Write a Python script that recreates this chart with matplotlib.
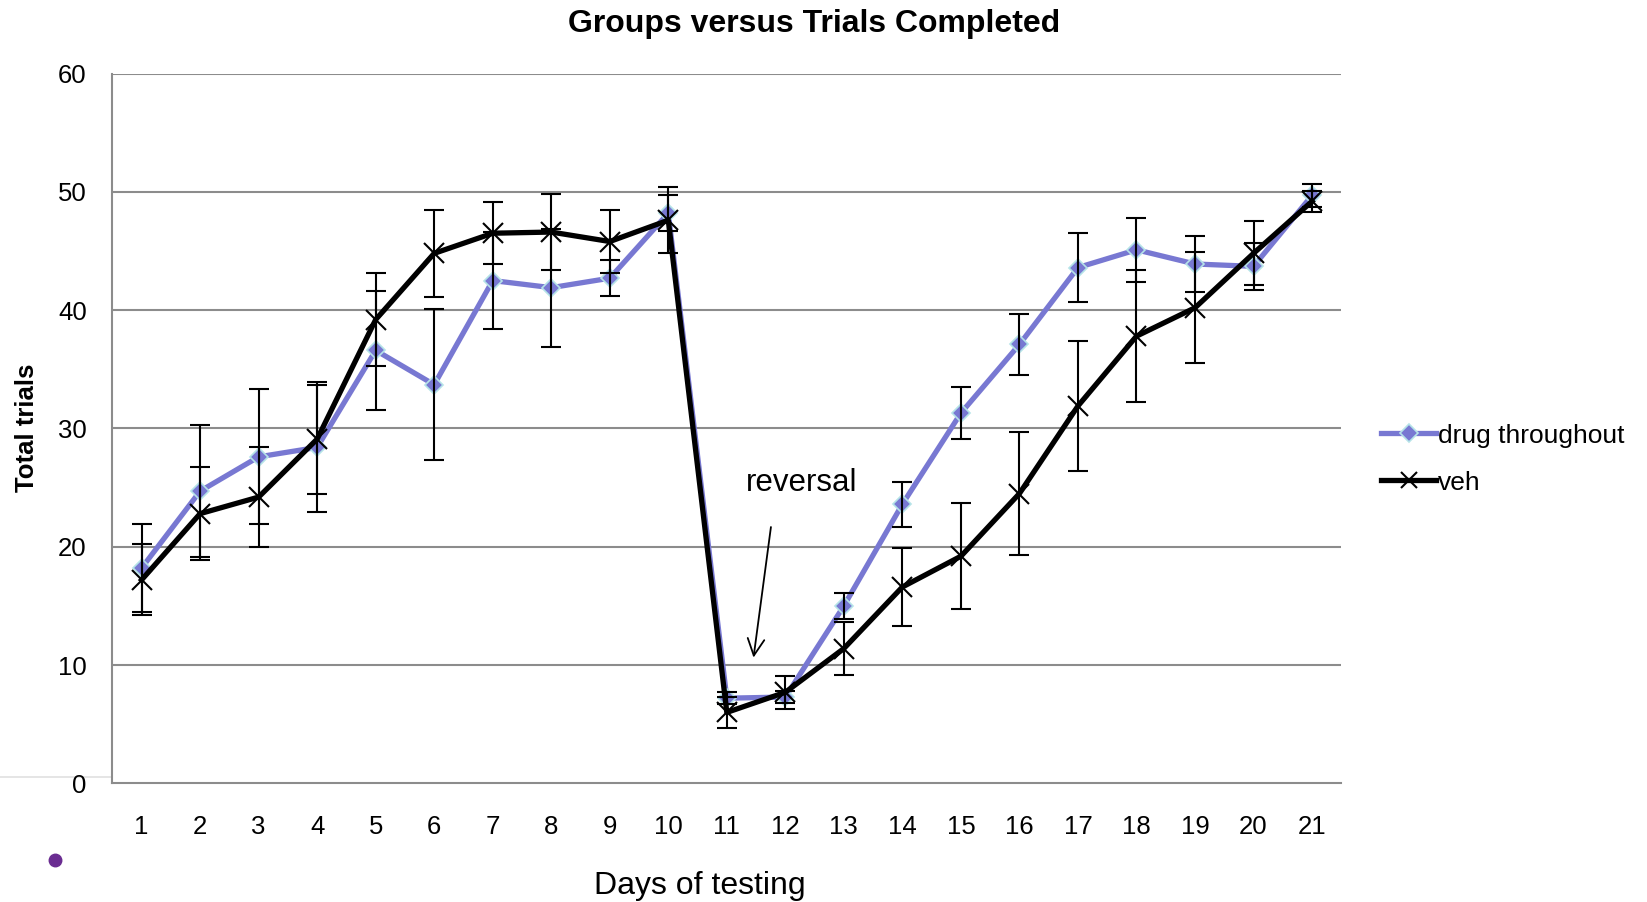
import matplotlib
matplotlib.use('Agg')
import matplotlib.pyplot as plt
from matplotlib.lines import Line2D

plt.rcParams['font.family'] = ['Liberation Sans', 'DejaVu Sans']

days = list(range(1, 22))
day_labels = [str(d) for d in days]
drug = [18.2, 24.7, 27.6, 28.4, 36.6, 33.7, 42.5, 41.9, 42.7, 48.2, 7.2,
        7.3, 15.0, 23.6, 31.3, 37.1, 43.6, 45.1, 43.9, 43.7, 49.7]
drug_err = [3.7, 5.6, 5.7, 5.5, 5.0, 6.4, 4.1, 5.0, 1.5, 1.5, 0.5,
            0.5, 1.1, 1.9, 2.2, 2.6, 2.9, 2.7, 2.4, 2.0, 1.0]
veh = [17.2, 22.8, 24.2, 29.1, 39.2, 44.8, 46.5, 46.6, 45.8, 47.6, 6.0,
       7.7, 11.4, 16.6, 19.2, 24.5, 31.9, 37.8, 40.2, 44.8, 49.2]
veh_err = [3.0, 3.9, 4.2, 4.6, 3.9, 3.7, 2.6, 3.2, 2.7, 2.8, 1.3,
           1.4, 2.2, 3.3, 4.5, 5.2, 5.5, 5.6, 4.7, 2.7, 0.9]
series_names = ['drug throughout', 'veh']
yticks = [0, 10, 20, 30, 40, 50, 60]

purple = '#7878D2'
grid_c = '#8C8C8C'

fig = plt.figure(figsize=(16.47, 9.02), dpi=100)
ax = fig.add_axes([0.0682, 0.1315, 0.7462, 0.787])

# gridlines
for y in yticks[1:]:
    ax.axhline(y, color=grid_c, lw=1.5, zorder=0)

# lines
ax.plot(days, drug, color=purple, lw=3.8, marker='D', markersize=9,
        markerfacecolor=purple, markeredgecolor='#B5E3E8',
        markeredgewidth=1.2, zorder=3, label=series_names[0])
ax.plot(days, veh, color='black', lw=3.8, marker='x', markersize=15,
        markeredgewidth=1.5, zorder=4, label=series_names[1])

# error bars
ax.errorbar(days, drug, yerr=drug_err, fmt='none', ecolor='black',
            elinewidth=1.5, capsize=7, capthick=1.5, zorder=5)
ax.errorbar(days, veh, yerr=veh_err, fmt='none', ecolor='black',
            elinewidth=1.5, capsize=7, capthick=1.5, zorder=5)

ax.set_xlim(0.5, 21.5)
ax.set_ylim(0, 60)
ax.set_xticks(days)
ax.set_xticklabels(day_labels)
ax.set_yticks(yticks)
ax.tick_params(axis='both', length=0, labelsize=18.5)
ax.tick_params(axis='x', pad=22.5)
ax.tick_params(axis='y', pad=18.5)

for s in ['top', 'right']:
    ax.spines[s].set_visible(False)
for s in ['left', 'bottom']:
    ax.spines[s].set_color(grid_c)
    ax.spines[s].set_linewidth(1.5)

# annotation
ax.annotate('', xy=(11.45, 10.4), xytext=(11.76, 21.9),
            arrowprops=dict(arrowstyle='->', color='black', lw=1.3,
                            mutation_scale=30))
ax.text(12.27, 25.4, 'reversal', fontsize=22.5, ha='center', va='center')

# titles / labels
fig.text(0.494, 0.9735, 'Groups versus Trials Completed', fontsize=23,
         fontweight='bold', ha='center', va='center')
fig.text(0.425, 0.0175, 'Days of testing', fontsize=23, ha='center', va='center')
fig.text(0.0165, 0.5255, 'Total trials', fontsize=18.5, fontweight='bold',
         rotation=90, ha='center', va='center')

# legend
h1 = Line2D([], [], color=purple, lw=3.8, marker='D', markersize=9,
            markerfacecolor=purple, markeredgecolor='#B5E3E8', markeredgewidth=1.2)
h2 = Line2D([], [], color='black', lw=3.8, marker='x', markersize=12,
            markeredgewidth=1.5)
fig.legend([h1, h2], series_names, loc='center left',
           bbox_to_anchor=(0.832, 0.491), frameon=False, fontsize=19,
           handlelength=2.1, handletextpad=0.05, labelspacing=0.88,
           borderaxespad=0)

# decorative artifacts from the original slide (bottom-left)
fig.add_artist(Line2D([0, 0.29], [0.139, 0.139], transform=fig.transFigure,
                      color='#E0E0E0', lw=1.2, zorder=0))
fig.add_artist(Line2D([0.0335], [0.047], transform=fig.transFigure,
                      marker='o', markersize=9, color='#6A2C91', lw=0, zorder=1))

fig.savefig('out.png', dpi=100)
